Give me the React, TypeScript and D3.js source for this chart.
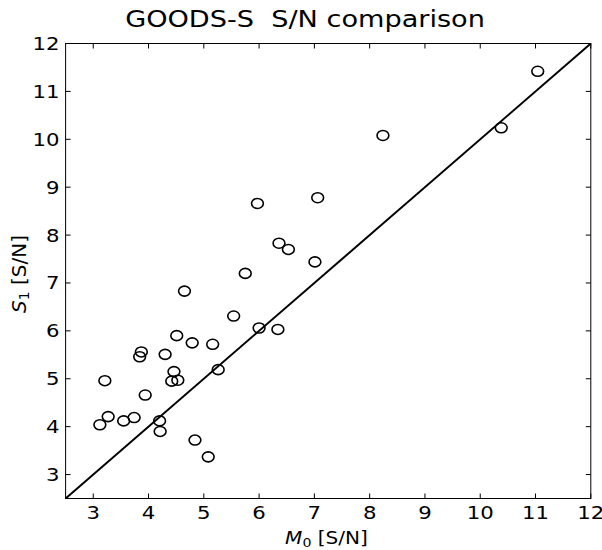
import React from 'react';
import * as d3 from 'd3';

// M0 and S1 signal-to-noise values
const m0 = [3.12, 3.21, 3.27, 3.55, 3.74, 3.84, 3.87, 3.94, 4.20, 4.21, 4.30, 4.42, 4.46, 4.51, 4.53,
  4.65, 4.79, 4.84, 5.08, 5.16, 5.26, 5.54, 5.75, 5.97, 6.00, 6.34, 6.36, 6.53, 7.01, 7.06, 8.24, 10.38, 11.04];
const s1 = [4.04, 4.96, 4.21, 4.12, 4.19, 5.46, 5.56, 4.66, 4.12, 3.90, 5.51, 4.95, 5.15, 5.90, 4.97,
  6.83, 5.75, 3.72, 3.37, 5.72, 5.19, 6.31, 7.20, 8.66, 6.06, 6.03, 7.83, 7.70, 7.44, 8.78, 10.08, 10.24, 11.42];
const ticks = [3, 4, 5, 6, 7, 8, 9, 10, 11, 12];
const domain = [2.5, 12];

const W = 602, H = 550;
const margin = { left: 65.6, right: 11.2, top: 43.5, bottom: 51.5 };
// the reference picture is a little wider than tall in its glyphs and markers
const SX = 1.18;

function T(props: { x: number; y: number; size: number; anchor?: string; children: any }) {
  return (
    <text transform={`translate(${props.x},${props.y}) scale(${SX},1)`} fontSize={props.size}
      textAnchor={props.anchor || 'middle'}>{props.children}</text>
  );
}

export default function App() {
  const x = d3.scaleLinear().domain(domain).range([margin.left, W - margin.right]);
  const y = d3.scaleLinear().domain(domain).range([H - margin.bottom, margin.top]);
  const tl = 5;
  const x0 = x.range()[0], x1 = x.range()[1], y0 = y.range()[0], y1 = y.range()[1];
  const diag = d3.line<number>().x(d => x(d)).y(d => y(d))(domain);

  return (
    <svg width={W} height={H} style={{ position: 'absolute', left: 0, top: 0, background: '#fff' }}
      fontFamily="DejaVu Sans">
      <T x={305} y={27} size={23}>GOODS-S{'\u00a0\u00a0'}S/N comparison</T>
      <g stroke="#000" strokeWidth={1}>
        {ticks.map(t => (
          <g key={'t' + t}>
            <line x1={x(t)} x2={x(t)} y1={y0} y2={y0 - tl} />
            <line x1={x(t)} x2={x(t)} y1={y1} y2={y1 + tl} />
            <line x1={x0} x2={x0 + tl} y1={y(t)} y2={y(t)} />
            <line x1={x1} x2={x1 - tl} y1={y(t)} y2={y(t)} />
          </g>
        ))}
      </g>
      {ticks.map(t => (
        <g key={'l' + t}>
          <T x={x(t)} y={y0 + 20.5} size={18}>{t}</T>
          <T x={x0 - 6} y={y(t) + 6.5} size={18} anchor="end">{t}</T>
        </g>
      ))}
      <path d={diag || ''} stroke="#000" strokeWidth={2} fill="none" />
      {m0.map((v, i) => (
        <ellipse key={i} cx={x(v)} cy={y(s1[i])} rx={5.9} ry={5} fill="none" stroke="#000" strokeWidth={1.6} />
      ))}
      <rect x={x0} y={y1} width={x1 - x0} height={y0 - y1} fill="none" stroke="#000" strokeWidth={1} />
      <T x={326.5} y={544} size={17}>
        <tspan fontStyle="italic">M</tspan><tspan fontSize={12} dy={3}>0</tspan><tspan dy={-3}> [S/N]</tspan>
      </T>
      <text transform={`translate(26,274) rotate(-90)`} textAnchor="middle" fontSize={20}>
        <tspan fontStyle="italic">S</tspan><tspan fontSize={14} dy={3}>1</tspan><tspan dy={-3}> [S/N]</tspan>
      </text>
    </svg>
  );
}
